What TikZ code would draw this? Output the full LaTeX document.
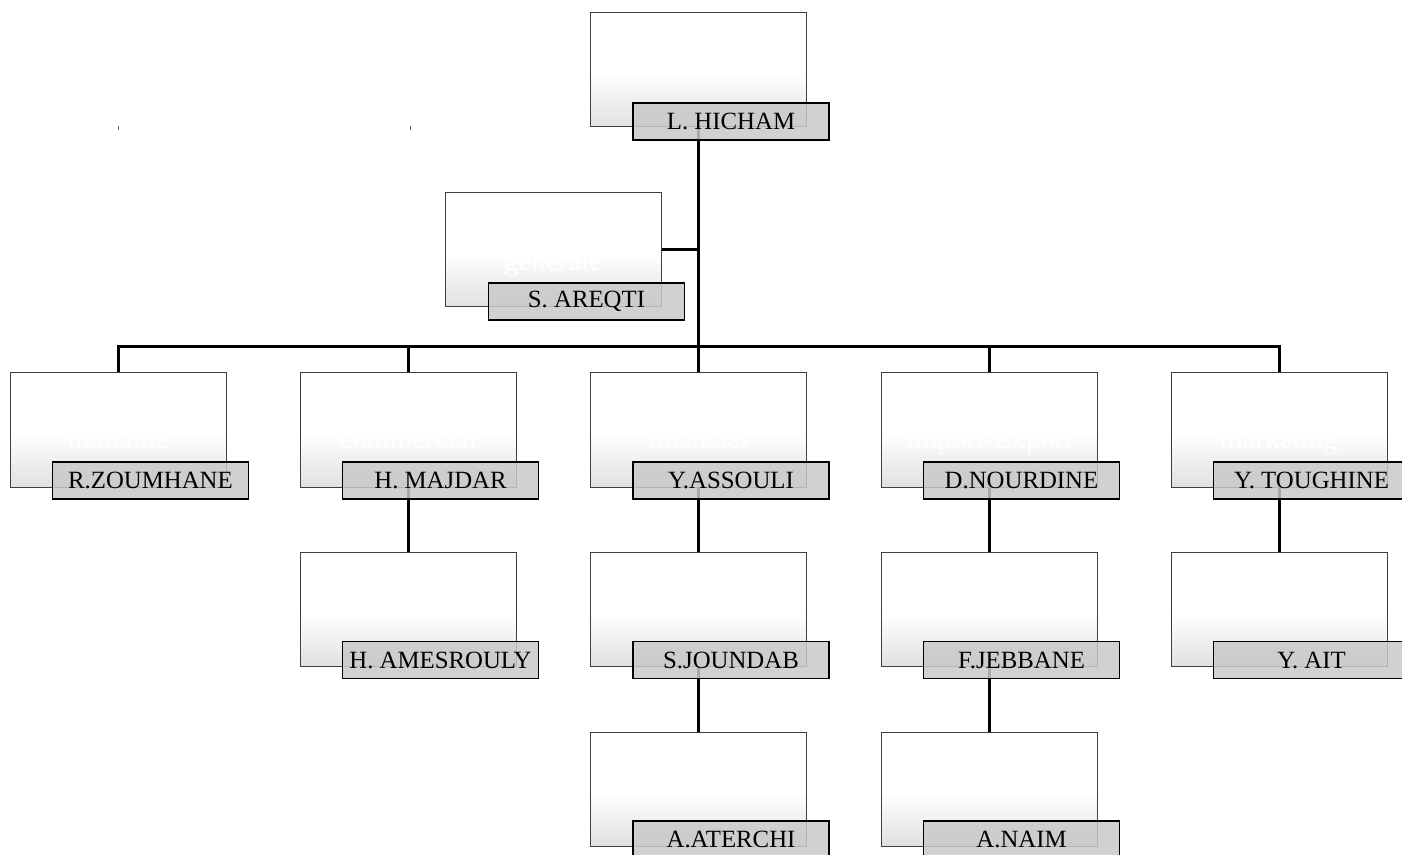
\documentclass[tikz,border=0pt]{standalone}
\usepackage{fontspec}
\setmainfont{Liberation Serif}
\pgfdeclareverticalshading{boxshade}{100bp}{color(0bp)=(black!12); color(25bp)=(black!12); color(48bp)=(white); color(100bp)=(white)}
\begin{document}
\begin{tikzpicture}[x=0.5pt,y=-0.5pt,
  unitbox/.style={draw=black!75, line width=0.5pt, minimum width=108pt, minimum height=57pt, inner sep=0pt,
    shading=boxshade},
  namebox/.style={draw=black, line width=0.7pt, fill=black!21, fill opacity=0.85, text opacity=1,
    minimum width=98pt, minimum height=18.5pt, inner sep=0pt, font=\fontsize{12.4}{14}\selectfont},
  ghost/.style={text=white, font=\fontsize{14.5}{16}\selectfont, anchor=base, inner sep=0pt},
  conn/.style={line width=1.5pt, black}]
\useasboundingbox (0,0) rectangle (1402,855);
\fill[white] (0,0) rectangle (1402,855);
% outer boxes
\coordinate (bus) at (698.5,347);
\node[unitbox] (top) at (698.5,70) {};
\node[unitbox] (gen) at (553,250) {};
\node[unitbox] (hum) at (118,430) {};
\node[unitbox] (com) at (408,430) {};
\node[unitbox] (fin) at (698.5,430) {};
\node[unitbox] (imp) at (989,430) {};
\node[unitbox] (mkt) at (1279,430) {};
\node[unitbox] (com2) at (408,609.5) {};
\node[unitbox] (fin2) at (698.5,609.5) {};
\node[unitbox] (imp2) at (989,609.5) {};
\node[unitbox] (mkt2) at (1279,609.5) {};
\node[unitbox] (fin3) at (698.5,789) {};
\node[unitbox] (imp3) at (989,789) {};
% connectors
\draw[conn] (top.south) -- (bus);
\draw[conn] (gen.east) -- (gen.east -| top.south);
\draw[conn] (hum.north) |- (bus) -| (mkt.north);
\draw[conn] (com.north) -- (com.north |- bus);
\draw[conn] (fin.north) -- (fin.north |- bus);
\draw[conn] (imp.north) -- (imp.north |- bus);
\draw[conn] (com.south) -- (com2.north);
\draw[conn] (fin.south) -- (fin2.north);
\draw[conn] (imp.south) -- (imp2.north);
\draw[conn] (mkt.south) -- (mkt2.north);
\draw[conn] (fin2.south) -- (fin3.north);
\draw[conn] (imp2.south) -- (imp3.north);
% ghost texts
\node[ghost] (tg) at (553,271) {generale};
\node[ghost] (th) at (118,448) {humaine};
\node[ghost] (tc) at (408,448) {commercial};
\node[ghost] (tf) at (698.5,448) {financier};
\node[ghost] (ti) at (989,448) {Import-Export};
\node[ghost] (tm) at (1279,448) {marketing};
% name boxes
\node[namebox] (n1) at (731,121.5) {L. HICHAM};
\node[namebox] (n2) at (586.5,301.5) {S. AREQTI};
\node[namebox] (n3) at (150.5,480.5) {R.ZOUMHANE};
\node[namebox] (n4) at (440.5,480.5) {H. MAJDAR};
\node[namebox] (n5) at (731,480.5) {Y.ASSOULI};
\node[namebox] (n6) at (1021.5,480.5) {D.NOURDINE};
\node[namebox] (n7) at (1311.5,480.5) {Y. TOUGHINE};
\node[namebox] (n8) at (440.5,660) {H. AMESROULY};
\node[namebox] (n9) at (731,660) {S.JOUNDAB};
\node[namebox] (n10) at (1021.5,660) {F.JEBBANE};
\node[namebox] (n11) at (1311.5,660) {Y. AIT};
\node[namebox] (n12) at (731,839.5) {A.ATERCHI};
\node[namebox] (n13) at (1021.5,839.5) {A.NAIM};
% tiny marks
\draw[black!60, line width=0.5pt] (118,126.5) -- (118,130);
\draw[black!60, line width=0.5pt] (410,126.5) -- (410,130);
\end{tikzpicture}
\end{document}
